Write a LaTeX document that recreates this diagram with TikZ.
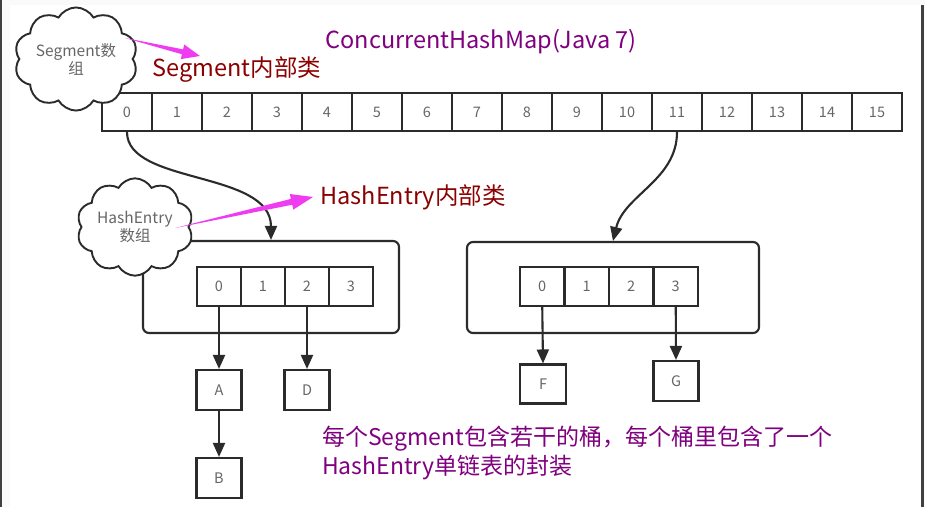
\documentclass[tikz,border=0pt]{standalone}
\usepackage{fontspec}
\setmainfont{Noto Sans CJK SC}
\usetikzlibrary{shapes.symbols,arrows.meta,calc}
\definecolor{ln}{HTML}{2B2B2B}
\definecolor{tx}{HTML}{666666}
\definecolor{mag}{HTML}{F03CF0}
\definecolor{dred}{HTML}{8B0000}
\definecolor{purp}{HTML}{800080}
\begin{document}
\begin{tikzpicture}[x=1pt,y=-1pt,
  cell/.style={draw=ln, line width=2.1pt, minimum width=50pt, minimum height=38pt, inner sep=0pt, font=\fontsize{14.5}{16}\selectfont, text=tx},
  hcell/.style={cell, minimum width=44pt, minimum height=39pt},
  item/.style={cell, minimum width=45pt, minimum height=40pt},
  bucket/.style={draw=ln, line width=2.1pt, rounded corners=6pt, inner sep=0pt},
  cloudnode/.style={cloud, cloud puffs=10, cloud puff arc=120, aspect=1.3, draw=ln, fill=white, line width=1.9pt, align=center, inner sep=0pt, text=tx, font=\fontsize{15.5}{18}\selectfont},
  link/.style={draw=ln, line width=2.1pt, -{Triangle[length=14pt,width=12pt]}},
  lbl/.style={inner sep=0pt, font=\fontsize{23.5}{28}\selectfont}
]
\useasboundingbox (0,0) rectangle (925,507);
% frame
\fill[gray!4] (0,0) rectangle (925,507);
\fill[white] (10,5) rectangle (921,507);
\fill[black!75] (0,0) rectangle (1.5,507);
\fill[black!75] (921,5) rectangle (923.5,507);

% segment array
\foreach \i in {0,...,15} {
  \node[cell] (s\i) at ({127+50*\i},112) {\i};
}

% buckets
\node[bucket, minimum width=256pt, minimum height=92pt] (lbox) at (271,287) {};
\node[bucket, minimum width=292pt, minimum height=91pt] (rbox) at (613,287.5) {};
\foreach \i in {0,...,3} {
  \node[hcell] (l\i) at ({219+44*\i},286.5) {\i};
  \node[hcell, minimum width=44.5pt] (r\i) at ({542.25+44.5*\i},286.5) {\i};
}

% entries
\node[item] (A) at (219,390) {A};
\node[item] (D) at (307,390) {D};
\node[item] (B) at (219,478) {B};
\node[item, minimum width=46pt, minimum height=39pt] (F) at (543,384) {F};
\node[item] (G) at (676,381) {G};

% connectors
\draw[link] (s0.south) .. controls (127,185) and (271,170) .. (lbox.north);
\draw[link] (s11.south) .. controls (677,180) and (624,195) .. (rbox.north);
\draw[link] (l0.south) -- (A.north);
\draw[link] (l2.south) -- (D.north);
\draw[link] (A.south) -- (B.north);
\draw[link] (r0.south) -- (F.north);
\draw[link] (r3.south) -- (G.north);

% clouds
\node[cloudnode, minimum width=100pt, minimum height=78pt] (segcloud) at (76,59) {Segment数\\组};
\node[cloudnode, minimum width=100pt, minimum height=78pt] (hecloud) at (135,227) {HashEntry\\数组};

% magenta arrows
\coordinate (a1) at (125,38);
\coordinate (b1) at (200,56);
\coordinate (h1) at ($(b1)!18pt!(a1)$);
\fill[mag] (a1) -- ($(h1)!2.5pt!90:(b1)$) -- ($(h1)!7.5pt!90:(b1)$) -- (b1) -- ($(h1)!7.5pt!-90:(b1)$) -- ($(h1)!2.5pt!-90:(b1)$) -- cycle;
\coordinate (a2) at (175,228);
\coordinate (b2) at (313,197);
\coordinate (h2) at ($(b2)!22pt!(a2)$);
\fill[mag] (a2) -- ($(h2)!3pt!90:(b2)$) -- ($(h2)!8pt!90:(b2)$) -- (b2) -- ($(h2)!8pt!-90:(b2)$) -- ($(h2)!3pt!-90:(b2)$) -- cycle;

% labels
\node[lbl, text=purp] (title) at (481,42) {ConcurrentHashMap(Java 7)};
\node[lbl, text=dred] (seglbl) at (237,70) {Segment内部类};
\node[lbl, text=dred] (helbl) at (413,197) {HashEntry内部类};
\node[lbl, text=purp, anchor=west, align=left, font=\fontsize{23}{29.5}\selectfont] (note) at (322,453) {每个Segment包含若干的桶，每个桶里包含了一个\\HashEntry单链表的封装};
\end{tikzpicture}
\end{document}
